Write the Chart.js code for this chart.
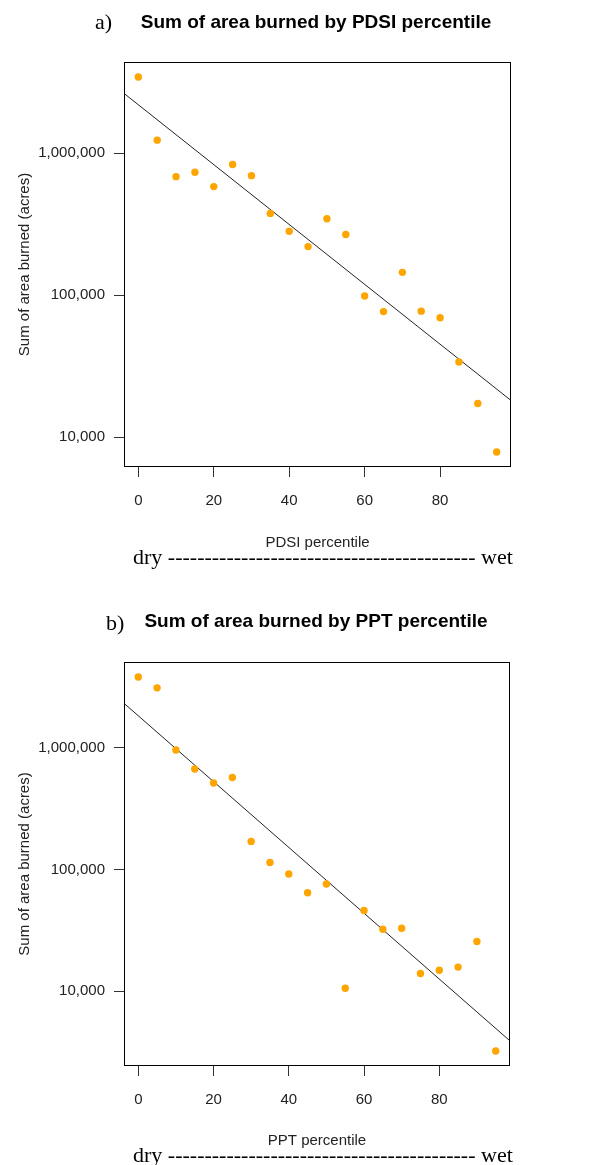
<!DOCTYPE html>
<html>
<head>
<meta charset="utf-8">
<script src="https://cdn.jsdelivr.net/npm/chart.js@4"></script>
<style>
  body { margin: 0; background: #fff; }
  #page { position: relative; width: 596px; height: 1165px; overflow: hidden; background: #fff; }
  .chartbox { position: absolute; left: 0; }
  .txt { position: absolute; white-space: nowrap; line-height: 1; color: #000; }
  .ttl { font: bold 19px "Liberation Sans", Arial, sans-serif; transform: translate(-50%, -50%); }
  .lbl { font: 22px "Liberation Serif", "Times New Roman", serif; transform: translateY(-50%); }
</style>
</head>
<body>
<div id="page">
  <div class="chartbox" style="top:0"><canvas id="graficoPdsi" width="596" height="580"></canvas></div>
  <div class="chartbox" style="top:580px"><canvas id="graficoPpt" width="596" height="585"></canvas></div>

  <div class="txt lbl" style="left:95px; top:22px">a)</div>
  <div class="txt ttl" style="left:316px; top:22px">Sum of area burned by PDSI percentile</div>
  <div class="txt lbl" style="left:133px; top:557px">dry ------------------------------------------ wet</div>

  <div class="txt lbl" style="left:106px; top:623px">b)</div>
  <div class="txt ttl" style="left:316px; top:621px">Sum of area burned by PPT percentile</div>
  <div class="txt lbl" style="left:133px; top:1155px">dry ------------------------------------------ wet</div>
</div>

<script>
// percentiles (same for both panels)
var percentis = [0, 5, 10, 15, 20, 25, 30, 35, 40, 45, 50, 55, 60, 65, 70, 75, 80, 85, 90, 95];

// a) area burned by PDSI percentile (acres)
var areaPdsi = [3440000, 1236000, 684000, 735000, 582000, 832000, 695000, 377000, 282000, 220000,
                346000, 268000, 98900, 76700, 145000, 77300, 69400, 33900, 17300, 7880];
// b) area burned by PPT percentile (acres)
var areaPpt = [3810000, 3100000, 958000, 668000, 513000, 570000, 170000, 114000, 91700, 64400,
               75900, 10600, 46000, 32300, 32900, 14000, 14900, 15800, 25600, 3230];

// fitted lines: log10(area) = intercept + slope * percentile
var ajustePdsi = [6.341, -0.02107];
var ajustePpt = [6.262, -0.02702];

var xTicks = [0, 20, 40, 60, 80];
var yTicks = [10000, 100000, 1000000];

var fonte = { family: "'Liberation Sans', Arial, sans-serif", size: 15 };

// R style 4% extension of the data range
function faixa(vals, logar) {
  var v = vals.map(function (d) { return logar ? Math.log10(d) : d; });
  var mn = Math.min.apply(null, v), mx = Math.max.apply(null, v);
  var e = (mx - mn) * 0.04;
  return logar ? [Math.pow(10, mn - e), Math.pow(10, mx + e)] : [mn - e, mx + e];
}

var caixa = {
  id: "caixa",
  afterDatasetsDraw: function (chart) {
    var a = chart.chartArea, ctx = chart.ctx;
    ctx.save();
    ctx.strokeStyle = "#000";
    ctx.lineWidth = 1;
    ctx.strokeRect(Math.round(a.left) + 0.5, Math.round(a.top) + 0.5,
      Math.round(a.right - a.left) - 1, Math.round(a.bottom - a.top) - 1);
    ctx.restore();
  }
};

function criarGrafico(id, area, ajuste, tituloX, cfg) {
  var rx = faixa(percentis, false);
  var ry = faixa(area, true);
  var pontos = percentis.map(function (p, i) { return { x: p, y: area[i] }; });
  var linha = [rx[0], rx[1]].map(function (p) {
    return { x: p, y: Math.pow(10, ajuste[0] + ajuste[1] * p) };
  });

  new Chart(document.getElementById(id), {
    type: "scatter",
    data: {
      datasets: [
        { data: pontos, backgroundColor: "#FFA500", borderWidth: 0, pointRadius: 3.7, pointHoverRadius: 3.7 },
        { data: linha, showLine: true, borderColor: "#222", borderWidth: 1, pointRadius: 0 }
      ]
    },
    options: {
      responsive: false,
      animation: false,
      events: [],
      layout: { padding: { top: cfg.top, right: 596 - cfg.right, left: 0, bottom: 0 } },
      plugins: { legend: { display: false }, tooltip: { enabled: false } },
      scales: {
        x: {
          type: "linear",
          min: rx[0],
          max: rx[1],
          afterBuildTicks: function (s) { s.ticks = xTicks.map(function (v) { return { value: v }; }); },
          afterFit: function (s) { s.height = cfg.xh; },
          grid: { drawOnChartArea: false, drawTicks: true, tickLength: 10, color: "#333" },
          border: { display: false },
          ticks: { font: fonte, color: "#222", padding: 15, maxRotation: 0 },
          title: { display: true, text: tituloX, font: fonte, color: "#222", padding: { top: 0, bottom: cfg.tpad } }
        },
        y: {
          type: "logarithmic",
          min: ry[0],
          max: ry[1],
          afterBuildTicks: function (s) { s.ticks = yTicks.map(function (v) { return { value: v }; }); },
          afterFit: function (s) { s.width = 124; },
          grid: { drawOnChartArea: false, drawTicks: true, tickLength: 10, color: "#333" },
          border: { display: false },
          ticks: {
            font: fonte, color: "#222", padding: 9,
            callback: function (v) { return v.toLocaleString("en-US"); }
          },
          title: { display: true, text: "Sum of area burned (acres)", font: fonte, color: "#222", padding: { top: 16, bottom: 0 } }
        }
      }
    },
    plugins: [caixa]
  });
}

criarGrafico("graficoPdsi", areaPdsi, ajustePdsi, "PDSI percentile", { top: 62, right: 511, xh: 113, tpad: 28 });
criarGrafico("graficoPpt", areaPpt, ajustePpt, "PPT percentile", { top: 82, right: 510, xh: 99, tpad: 15 });
</script>
</body>
</html>
